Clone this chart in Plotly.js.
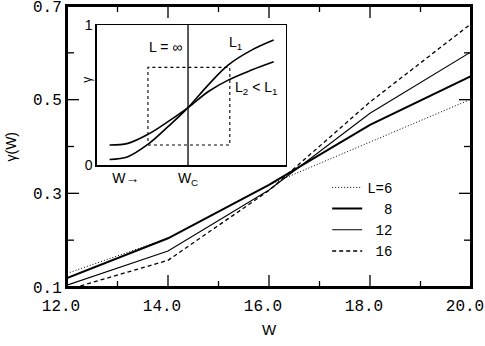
<!DOCTYPE html>
<html>
<head>
<meta charset="utf-8">
<script src="https://cdn.plot.ly/plotly-3.0.1.min.js"></script>
<style>
  html, body { margin: 0; padding: 0; background: #fff; }
  #graph { width: 485px; height: 346px; }
</style>
</head>
<body>
<div id="graph"></div>
<script>
// main chart: gamma(W) vs W for several L
var widths = [12, 14, 16, 18, 20];
var sizeNames = ['L=6', '\u00a0\u00a08', '\u00a012', '\u00a016'];
var gammaL6  = [0.129, 0.204, 0.318, 0.409, 0.501];
var gammaL8  = [0.119, 0.204, 0.318, 0.446, 0.550];
var gammaL12 = [0.104, 0.177, 0.307, 0.471, 0.602];
var gammaL16 = [0.094, 0.157, 0.306, 0.495, 0.662];

var xTicks = [12, 14, 16, 18, 20];
var xTickText = ['12.0', '14.0', '16.0', '18.0', '20.0'];
var xMinor = [13, 15, 17, 19];
var yTicks = [0.1, 0.3, 0.5, 0.7];
var yTickText = ['0.1', '0.3', '0.5', '0.7'];
var yMinor = [0.2, 0.4, 0.6];

// inset sketch (arbitrary units 0..1)
var insetX  = [0.067, 0.164, 0.270, 0.376, 0.482, 0.588, 0.694, 0.818, 0.935];
var insetL1 = [0.040, 0.060, 0.148, 0.274, 0.410, 0.571, 0.714, 0.821, 0.893];
var insetL2 = [0.143, 0.155, 0.219, 0.310, 0.410, 0.524, 0.607, 0.679, 0.738];
var wc = 0.482;
var boxX = [0.270, 0.703];
var boxY = [0.143, 0.698];

var mono = 'Liberation Mono, DejaVu Sans Mono, monospace';
var sans = 'Liberation Sans, Arial, sans-serif';

// plot area size in px, used to turn tick lengths into paper fractions
var plotW = 485 - 67 - 14;
var plotH = 346 - 6 - 59;

var data = [
    {
        x: widths, y: gammaL6, name: sizeNames[0],
        type: 'scatter', mode: 'lines',
        line: { color: 'black', width: 1, dash: '1px,2px' }
    },
    {
        x: widths, y: gammaL8, name: sizeNames[1],
        type: 'scatter', mode: 'lines',
        line: { color: 'black', width: 2 }
    },
    {
        x: widths, y: gammaL12, name: sizeNames[2],
        type: 'scatter', mode: 'lines',
        line: { color: 'black', width: 1.1 }
    },
    {
        x: widths, y: gammaL16, name: sizeNames[3],
        type: 'scatter', mode: 'lines',
        line: { color: 'black', width: 1.3, dash: '4px,3px' }
    },
    // inset curves
    {
        x: insetX, y: insetL1, xaxis: 'x2', yaxis: 'y2',
        type: 'scatter', mode: 'lines', line: { color: 'black', width: 1.6, shape: 'spline' },
        showlegend: false
    },
    {
        x: insetX, y: insetL2, xaxis: 'x2', yaxis: 'y2',
        type: 'scatter', mode: 'lines', line: { color: 'black', width: 1.6, shape: 'spline' },
        showlegend: false
    },
    {
        x: [wc, wc], y: [0, 1], xaxis: 'x2', yaxis: 'y2',
        type: 'scatter', mode: 'lines', line: { color: 'black', width: 1.3 },
        showlegend: false
    },
    {
        x: [boxX[0], boxX[1], boxX[1], boxX[0], boxX[0]],
        y: [boxY[0], boxY[0], boxY[1], boxY[1], boxY[0]],
        xaxis: 'x2', yaxis: 'y2',
        type: 'scatter', mode: 'lines', line: { color: 'black', width: 1.1, dash: '3px,3px' },
        showlegend: false
    }
];

// tick marks on all four sides, pointing inwards
var tickShapes = [];
function xTickMarks(vals, len) {
    var f = len / plotH;
    vals.forEach(function (v) {
        tickShapes.push({ type: 'line', xref: 'x', yref: 'paper', x0: v, x1: v, y0: 0, y1: f,
                          line: { color: 'black', width: 1.3 } });
        tickShapes.push({ type: 'line', xref: 'x', yref: 'paper', x0: v, x1: v, y0: 1, y1: 1 - f,
                          line: { color: 'black', width: 1.3 } });
    });
}
function yTickMarks(vals, len) {
    var f = len / plotW;
    vals.forEach(function (v) {
        tickShapes.push({ type: 'line', xref: 'paper', yref: 'y', x0: 0, x1: f, y0: v, y1: v,
                          line: { color: 'black', width: 1.3 } });
        tickShapes.push({ type: 'line', xref: 'paper', yref: 'y', x0: 1, x1: 1 - f, y0: v, y1: v,
                          line: { color: 'black', width: 1.3 } });
    });
}
xTickMarks(xTicks, 12);
xTickMarks(xMinor, 6);
yTickMarks(yTicks, 12);
yTickMarks(yMinor, 7);

// plot frame
tickShapes.push({ type: 'rect', xref: 'paper', yref: 'paper', x0: 0, x1: 1, y0: 0, y1: 1,
                  line: { color: 'black', width: 2 } });

var layout = {
    width: 485,
    height: 346,
    margin: { l: 67, r: 14, t: 6, b: 59 },
    showlegend: true,
    font: { family: mono, size: 16, color: '#000' },
    xaxis: {
        range: [12, 20],
        tickmode: 'array', tickvals: xTicks, ticktext: xTickText,
        ticks: '',
        showline: true, linewidth: 2, linecolor: 'black', mirror: true,
        showgrid: false, zeroline: false,
        ticklabelshift: -6,
        ticklabelstandoff: 3,
        ticklabeloverflow: 'allow'
    },
    yaxis: {
        range: [0.1, 0.7],
        tickmode: 'array', tickvals: yTicks, ticktext: yTickText,
        ticks: '',
        showline: true, linewidth: 2, linecolor: 'black', mirror: true,
        showgrid: false, zeroline: false,
        ticklabeloverflow: 'allow'
    },
    xaxis2: {
        domain: [0.074, 0.542], anchor: 'y2', range: [0, 1],
        tickmode: 'array', tickvals: [0.153, wc], ticktext: ['W\u2192', 'W<sub>C</sub>'],
        ticks: '', showline: true, linewidth: 1.5, linecolor: 'black', mirror: true,
        showgrid: false, zeroline: false,
        tickfont: { family: sans, size: 14 }
    },
    yaxis2: {
        domain: [0.434, 0.932], anchor: 'x2', range: [0, 1],
        tickmode: 'array', tickvals: [0, 1], ticktext: ['0', '1'],
        ticks: '', showline: true, linewidth: 1.5, linecolor: 'black', mirror: true,
        showgrid: false, zeroline: false,
        tickfont: { family: sans, size: 14 }
    },
    legend: {
        x: 0.644, y: 0.41, xanchor: 'left', yanchor: 'top',
        bgcolor: 'rgba(0,0,0,0)', borderwidth: 0,
        itemwidth: 30,
        font: { family: mono, size: 14 },
        tracegroupgap: 0
    },
    shapes: tickShapes,
    annotations: [
        { text: 'W', xref: 'paper', yref: 'paper', x: 0.5, y: -0.15,
          xanchor: 'center', yanchor: 'middle',
          showarrow: false, font: { family: sans, size: 15 } },
        { text: '\u03b3(W)', xref: 'paper', yref: 'paper', x: -0.141, y: 0.50,
          xanchor: 'center', yanchor: 'middle',
          textangle: -90, showarrow: false, font: { family: sans, size: 14 } },
        { text: '\u03b3', xref: 'paper', yref: 'paper', x: 0.049, y: 0.737,
          xanchor: 'center', yanchor: 'middle',
          textangle: -90, showarrow: false, font: { family: sans, size: 12 } },
        { text: 'L = \u221e', xref: 'x2', yref: 'y2', x: 0.365, y: 0.845,
          showarrow: false, font: { family: sans, size: 14 } },
        { text: 'L<sub>1</sub>', xref: 'x2', yref: 'y2', x: 0.735, y: 0.87,
          showarrow: false, font: { family: sans, size: 14 } },
        { text: 'L<sub>2</sub> < L<sub>1</sub>', xref: 'x2', yref: 'y2', x: 0.84, y: 0.55,
          showarrow: false, font: { family: sans, size: 14 } }
    ]
};

Plotly.newPlot('graph', data, layout, { staticPlot: true });
</script>
</body>
</html>
